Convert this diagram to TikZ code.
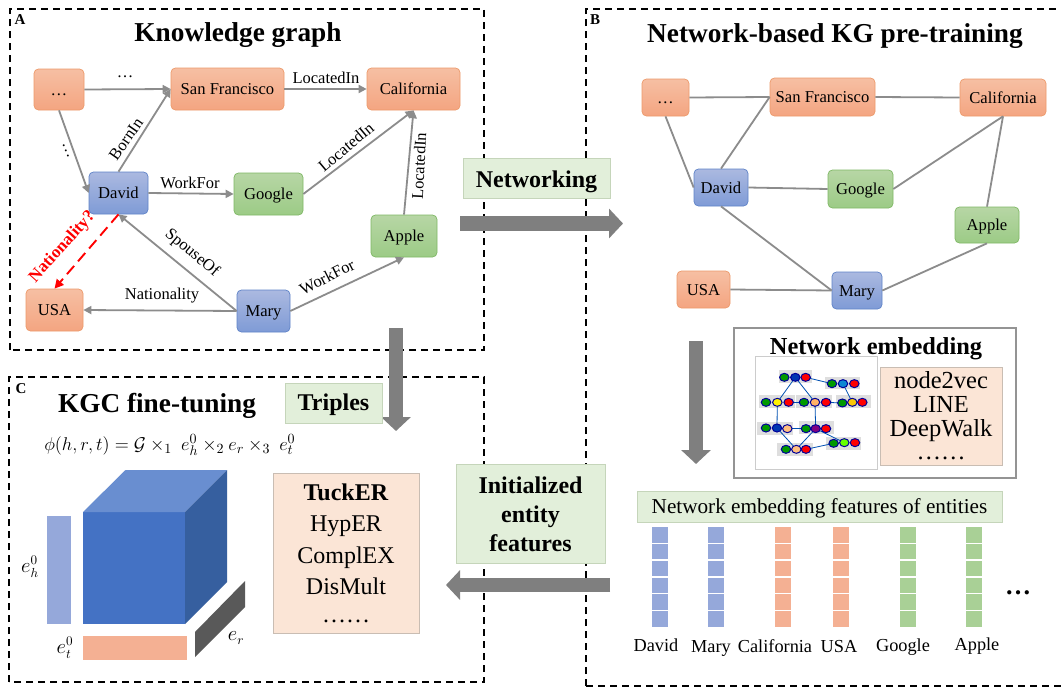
\documentclass[tikz,border=0pt]{standalone}
\usepackage{fontspec}
\setmainfont{Liberation Serif}
\usetikzlibrary{arrows.meta,calc}
\definecolor{orT}{HTML}{F6BFA3}\definecolor{orB}{HTML}{F4A581}\definecolor{orD}{HTML}{ED9A6B}
\definecolor{blT}{HTML}{ABB9E0}\definecolor{blB}{HTML}{7F9BD6}\definecolor{blD}{HTML}{5F83C8}
\definecolor{grT}{HTML}{B7D6A5}\definecolor{grB}{HTML}{9CCB86}\definecolor{grD}{HTML}{7FB865}
\definecolor{lgreen}{HTML}{E2EFDA}\definecolor{lgreenD}{HTML}{C5D5BA}
\definecolor{peach}{HTML}{FBE5D6}\definecolor{peachD}{HTML}{C9BDB3}
\definecolor{arr}{HTML}{7F7F7F}\definecolor{edgeg}{HTML}{8C8C8C}
\definecolor{fblue}{HTML}{95A8DA}\definecolor{for}{HTML}{F4B093}\definecolor{fgr}{HTML}{A9D096}
\definecolor{cf}{HTML}{4472C4}\definecolor{ct}{HTML}{698ED0}\definecolor{cs}{HTML}{365F9F}\definecolor{cg}{HTML}{595959}
\tikzset{
  ent/.style={rounded corners=4.5pt,draw,line width=.7pt,inner sep=0pt,font=\fontsize{16.6}{17}\selectfont,text=black,text height=14pt,text depth=2.5pt},
  orange ent/.style={ent,draw=orD,top color=orT,bottom color=orB},
  blue ent/.style={ent,draw=blD,top color=blT,bottom color=blB},
  green ent/.style={ent,draw=grD,top color=grT,bottom color=grB},
  rel/.style={draw=edgeg,line width=1.8pt,-{Triangle[length=8pt,width=8pt]}},
  plain/.style={draw=edgeg,line width=1.8pt},
  lab/.style={inner sep=0pt,font=\fontsize{16.5}{17}\selectfont,text=black},
  panel/.style={draw=black,line width=1.6pt,dash pattern=on 7pt off 5pt},
  big/.style={draw=arr,line width=14.5pt,-{Triangle[length=14pt,width=29pt]}},
  tag/.style={fill=lgreen,draw=lgreenD,line width=.8pt,inner sep=0pt,align=center,font=\fontsize{24}{29}\selectfont\bfseries},
  list/.style={fill=peach,draw=peachD,line width=.7pt,inner sep=0pt,align=center},
  head/.style={inner sep=0pt,font=\fontsize{27.3}{30}\selectfont\bfseries},
  letter/.style={inner sep=0pt,font=\fontsize{15}{16}\selectfont\bfseries},
  dotn/.style={ellipse,draw=blue!60!black,line width=1pt,inner sep=0pt,minimum width=9.5pt,minimum height=8pt},
  grp/.style={fill=black!13,draw=none},
  lnk/.style={draw=blue!55!cyan!70!black,line width=.8pt},
  feat/.style={inner sep=0pt,font=\fontsize{18.3}{19}\selectfont,text height=12pt,text depth=4pt},
  cellb/.style={draw=none,inner sep=0pt,minimum width=16pt,minimum height=15.5pt},
  mathlab/.style={inner sep=0pt,font=\fontsize{16}{17}\selectfont,scale=1.2}
}
\usetikzlibrary{shapes.geometric}
\newcommand{\ent}[6]{\node[#1,minimum width=#4 pt - #2 pt,minimum height=#5 pt - #3 pt] (#6) at ({(#2+#4)/2},{(#3+#5)/2})}
\newcommand{\fbar}[3]{\foreach \k in {0,...,5}{\node[cellb,fill=#3] (#1\k) at (#2,{534.8+16.85*\k}) {};}}
\begin{document}
\begin{tikzpicture}[x=1pt,y=-1pt]
\useasboundingbox (0,0) rectangle (1061,688);
\fill[white] (0,0) rectangle (1061,688);
% panels
\draw[panel] (10,350) -- (10,9) -- (484,9) -- (484,350) -- cycle;
\draw[panel] (586,686) -- (586,9) -- (1061,9);
\draw[panel] (586,686) -- (1061,686);
\draw[panel] (9,682) -- (9,377) -- (484,377) -- (484,682) -- cycle;
\node[letter] (la) at (20,20) {A};
\node[letter] (lb) at (595,20) {B};
\node[letter] (lc) at (21,389) {C};
\node[head] (ha) at (238,35) {Knowledge graph};
\node[head] (hb) at (835,36) {Network-based KG pre-training};
\node[head] (hc) at (157,406) {KGC fine-tuning};
% panel A nodes
\ent{orange ent}{34}{69}{84}{110}{a0} {\dots};
\ent{orange ent}{171}{68}{284}{110}{asf} {San Francisco};
\ent{orange ent}{367}{68}{460}{110}{aca} {California};
\ent{blue ent}{89}{172}{148}{214}{ada} {David};
\ent{green ent}{234}{173}{303}{215}{ago} {Google};
\ent{green ent}{371}{215}{437}{257}{aap} {Apple};
\ent{orange ent}{26}{289}{83}{331}{aus} {USA};
\ent{blue ent}{237}{290}{290}{332}{ama} {Mary};
% panel A edges
\draw[rel] (a0.east) -- (asf.west);
\draw[rel] (asf.east) -- (aca.west);
\draw[rel] (a0.south) -- (ada.west);
\draw[rel] (ada.north) -- (asf.west);
\draw[rel] (ada.east) -- (ago.west);
\draw[rel] (ago.east) -- (aca.south);
\draw[rel] (aap.north) -- (aca.south);
\draw[rel] (ama.west) -- (ada.south);
\draw[rel] (ama.west) -- (aus.east);
\draw[rel] (ama.east) -- (aap.south);
\draw[red,line width=1.9pt,dash pattern=on 11pt off 6pt,-{Triangle[length=9pt,width=9pt]}] (ada.south) -- (aus.north);
\node[lab] (l1) at (125,77) {\dots};
\node[lab] (l2) at (326,78) {LocatedIn};
\node[lab,rotate=-68] (l3) at (66,151) {\dots};
\node[lab,rotate=55] (l4) at (126,139) {BornIn};
\node[lab] (l5) at (190,183) {WorkFor};
\node[lab,rotate=40] (l6) at (346,147) {LocatedIn};
\node[lab,rotate=87] (l7) at (419,166) {LocatedIn};
\node[lab,rotate=-40] (l8) at (192,253) {SpouseOf};
\node[lab,rotate=27] (l9) at (327,277) {WorkFor};
\node[lab] (l10) at (162,296) {Nationality};
\node[inner sep=0pt,rotate=48,text=red,font=\fontsize{17}{18}\selectfont\bfseries] (l11) at (62.5,247) {Nationality?};
% panel B nodes
\ent{orange ent}{642}{79}{689}{116}{b0} {\dots};
\ent{orange ent}{770}{78}{875}{116}{bsf} {San Francisco};
\ent{orange ent}{960}{79}{1046}{116}{bca} {California};
\ent{blue ent}{694}{169}{748}{206}{bda} {David};
\ent{green ent}{828}{170}{893}{208}{bgo} {Google};
\ent{green ent}{955}{207}{1019}{243}{bap} {Apple};
\ent{orange ent}{677}{271}{730}{308}{bus} {USA};
\ent{blue ent}{832}{272}{882}{309}{bma} {Mary};
\draw[plain] (b0.east) -- (bsf.west);
\draw[plain] (bsf.east) -- (bca.west);
\draw[plain] (b0.south) -- (bda.west);
\draw[plain] (bda.north) -- (bsf.west);
\draw[plain] (bda.east) -- (bgo.west);
\draw[plain] (bgo.east) -- (bca.south);
\draw[plain] (bap.north) -- (bca.south);
\draw[plain] (bda.south) -- (bma.west);
\draw[plain] (bus.east) -- (bma.west);
\draw[plain] (bma.east) -- (bap.south);
% big arrows
\coordinate (ar1s) at (460,223.5); \coordinate (ar1e) at (623,223.5);
\coordinate (ar2s) at (396,328); \coordinate (ar2e) at (396,431);
\coordinate (ar3s) at (696,341); \coordinate (ar3e) at (696,464);
\coordinate (ar4s) at (610,585); \coordinate (ar4e) at (446,585);
\draw[big] (ar1s) -- (ar1e);
\draw[big] (ar2s) -- (ar2e);
\draw[big] (ar3s) -- (ar3e);
\draw[big] (ar4s) -- (ar4e);
% tags
\ent{tag,text height=22pt,text depth=3pt}{463}{158}{610}{198}{tnet} {Networking};
\ent{tag,text height=20pt,text depth=5pt}{285}{383}{382}{423}{ttri} {Triples};
\ent{tag}{456}{464}{605}{563}{tini} {\rule{0pt}{18pt}Initialized\\entity\\features};
\ent{tag,font=\fontsize{21.2}{22}\selectfont,text height=17.5pt,text depth=3.5pt}{637}{491}{1002}{522}{tfea} {Network embedding features of entities};
% network embedding box
\draw[draw=black!42,line width=2pt,fill=white] (733.5,328) rectangle (1016,478);
\node[head,font=\fontsize{24.4}{26}\selectfont\bfseries] (hn) at (876,349) {Network embedding};
\draw[draw=black!20,line width=.7pt,fill=white] (755,356.5) rectangle (877,469);
\ent{list,font=\fontsize{24.5}{24}\selectfont}{880}{367}{1002}{465}{lnet} {\rule[-5pt]{0pt}{5pt}node2vec\\LINE\\DeepWalk\\[-1pt]\dots\dots};
\begin{scope}[shift={(680,320)},x=.3333pt,y=-.3333pt]
\fill[grp] (297,150) rectangle (395,190);
\fill[grp] (435,170) rectangle (540,208);
\fill[grp] (238,225) rectangle (345,265);
\fill[grp] (348,225) rectangle (455,265);
\fill[grp] (467,225) rectangle (572,265);
\fill[grp] (232,305) rectangle (340,345);
\fill[grp] (356,303) rectangle (462,343);
\fill[grp] (292,368) rectangle (398,408);
\fill[grp] (438,350) rectangle (543,390);
\foreach \n/\x/\y in {
 a/313/172,b/346/172,c/377/172,
 d/456/191,e/489/191,f/523/191,
 g/258/247,h/292/247,i/326/247,
 j/372/247,k/405/247,l/438/247,
 m/487/249,n/517/247,o/547/247,
 p/258/324,q/291/324,r/322/326,
 s/378/326,t/407/326,u/438/326,
 v/318/388,w/349/388,x/378/388,
 y/461/370,z/493/368,A/525/368}{
 \coordinate (p\n) at (\x,\y);}
\foreach \u/\v in {b/h,b/k,c/d,e/n,h/q,k/t,i/j,l/m,r/s,t/w,q/w,t/z,x/y}{\draw[lnk] (p\u) -- (p\v);}
\foreach \n/\c in {a/green!60!black,b/blue!70!cyan!70!black,c/red,d/green!60!black,e/cyan!70!blue,f/red,g/green!60!black,h/yellow,i/red,j/green!60!black,k/orange!60,l/red,m/green!60!black,n/yellow!60!orange,o/red,p/green!60!black,q/blue!70!cyan!70!black,r/orange!50,s/green!60!black,t/violet,u/red,v/green!60!black,w/orange!50,x/red,y/green!60!black,z/green!60!yellow,A/red}{
 \node[dotn,fill=\c] (d\n) at (p\n) {};}
\end{scope}
% feature bars
\fbar{fa}{660}{fblue}
\fbar{fb}{716}{fblue}
\fbar{fc}{782.5}{for}
\fbar{fd}{840.5}{for}
\fbar{fe}{907.5}{fgr}
\fbar{ff}{974}{fgr}
\node[feat] (na) at (656,647) {David};
\node[feat] (nb) at (711,648) {Mary};
\node[feat] (nc) at (775,648) {California};
\node[feat] (nd) at (839,648) {USA};
\node[feat] (ne) at (903,647) {Google};
\node[feat] (nf) at (977,646) {Apple};
\node[inner sep=0pt,font=\fontsize{26}{26}\selectfont\bfseries] (ng) at (1018,593) {\dots};
% panel C
\node[inner sep=0pt,anchor=west,font=\fontsize{15.5}{16}\selectfont,scale=1.28] (fm) at (44,445) {$\phi(h,r,t)=\mathcal{G}\times_1\ e_h^0\times_2 e_r\times_3\ e_t^0$};
\fill[cf] (83,512) rectangle (185,624);
\fill[ct] (83,512) -- (125.5,470) -- (227,470) -- (185,512) -- cycle;
\fill[cs] (185,512) -- (227,470) -- (227,582) -- (185,624) -- cycle;
\fill[fblue] (47,516) rectangle (71,624);
\fill[for] (83,636) rectangle (187,660);
\fill[cg] (195,632) -- (245,581) -- (245,607) -- (195,657) -- cycle;
\node[mathlab] (eh) at (30,567) {$e_h^0$};
\node[mathlab] (et) at (65,648) {$e_t^0$};
\node[mathlab] (er) at (236,638) {$e_r$};
\ent{list,font=\fontsize{24}{31.5}\selectfont}{273}{473}{419}{633}{lkgc} {\textbf{TuckER}\\HypER\\ComplEX\\DisMult\\[-4pt]\dots\dots};
\end{tikzpicture}
\end{document}
